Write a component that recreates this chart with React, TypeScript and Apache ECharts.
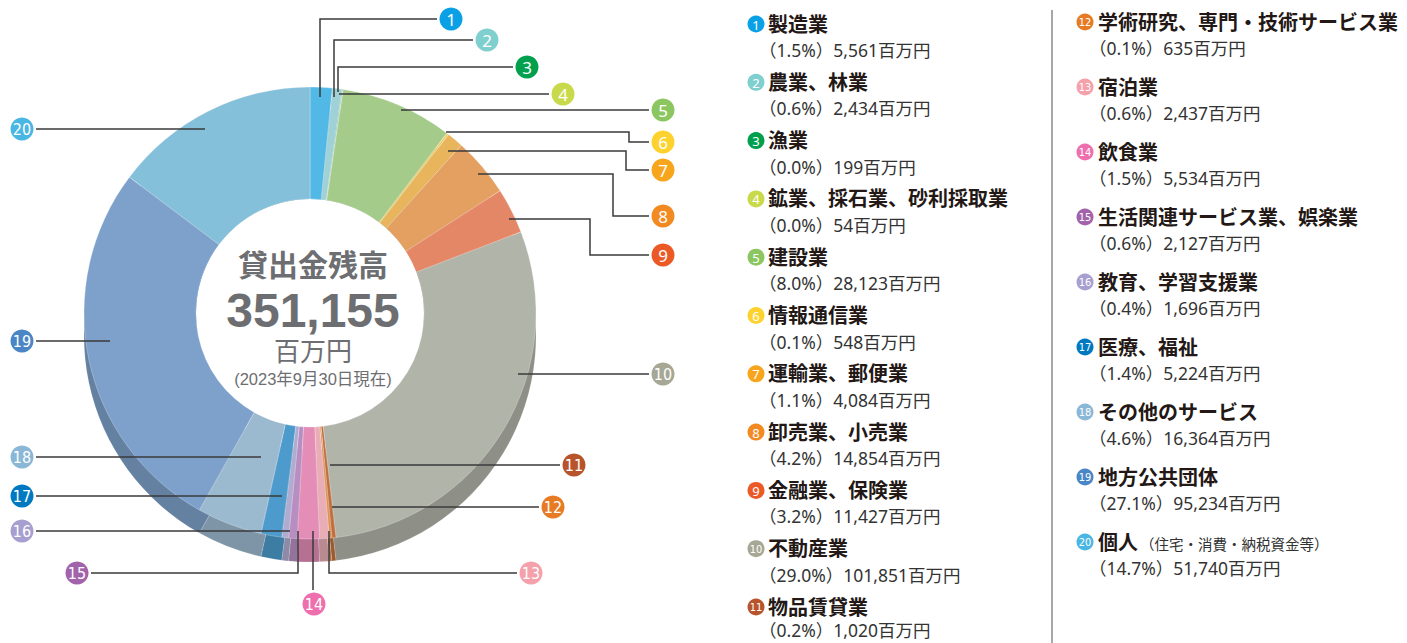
import React, { useEffect, useRef } from 'react';
import * as echarts from 'echarts';

// ---------------- data ----------------
const categories = [
  '製造業', '農業、林業', '漁業', '鉱業、採石業、砂利採取業', '建設業',
  '情報通信業', '運輸業、郵便業', '卸売業、小売業', '金融業、保険業', '不動産業',
  '物品賃貸業', '学術研究、専門・技術サービス業', '宿泊業', '飲食業', '生活関連サービス業、娯楽業',
  '教育、学習支援業', '医療、福祉', 'その他のサービス', '地方公共団体', '個人',
];
const values = [
  5561, 2434, 199, 54, 28123, 548, 4084, 14854, 11427, 101851,
  1020, 635, 2437, 5534, 2127, 1696, 5224, 16364, 95234, 51740,
];
const percents = [
  '1.5', '0.6', '0.0', '0.0', '8.0', '0.1', '1.1', '4.2', '3.2', '29.0',
  '0.2', '0.1', '0.6', '1.5', '0.6', '0.4', '1.4', '4.6', '27.1', '14.7',
];
const noteText = '（住宅・消費・納税資金等）';
const totalTitle = '貸出金残高';
const totalValue = '351,155';
const unitText = '百万円';
const dateText = '(2023年9月30日現在)';

// ---------------- styles ----------------
const sliceColors = [
  '#52b9e6', '#9fd1d7', '#4fae80', '#cfdc7a', '#a4cb8a',
  '#ecd06d', '#e8b45c', '#e4a061', '#e48767', '#b1b4a9',
  '#c0703f', '#e0904f', '#e8adb5', '#e48db7', '#b88ec2',
  '#b0abd1', '#4c9bcc', '#9cbacf', '#7da1cb', '#85c0da',
];
const markerColors = [
  '#0aa0e6', '#7fcfcf', '#00a04e', '#c8da4a', '#8cc660',
  '#fdd22e', '#f7a51c', '#f28a21', '#eb5a26', '#a6a794',
  '#b7542b', '#e67b24', '#f4a1ac', '#ee6fae', '#a263aa',
  '#a79fd0', '#0079c1', '#8ab7d6', '#4a86c5', '#4ab6e3',
];

// callout layout (annotation positions): marker centre + leader polyline
const callouts: { m: number[]; pts: number[][] }[] = [
  { m: [451, 19], pts: [[320, 97], [320, 19], [437, 19]] },
  { m: [487, 40], pts: [[334, 97], [334, 40], [473, 40]] },
  { m: [527, 67], pts: [[338, 92], [338, 67], [513, 67]] },
  { m: [563, 94], pts: [[339, 94], [549, 94]] },
  { m: [663, 110], pts: [[401, 110], [649, 110]] },
  { m: [663, 142], pts: [[446, 132], [629, 132], [629, 142], [649, 142]] },
  { m: [663, 170], pts: [[448, 151], [626, 151], [626, 170], [649, 170]] },
  { m: [663, 216], pts: [[478, 174], [613, 174], [613, 216], [649, 216]] },
  { m: [663, 255], pts: [[509, 219], [590, 219], [590, 255], [649, 255]] },
  { m: [663, 374], pts: [[518, 374], [649, 374]] },
  { m: [574, 465], pts: [[330, 465], [560, 465]] },
  { m: [553, 507], pts: [[332, 507], [539, 507]] },
  { m: [531, 573], pts: [[329, 531], [329, 573], [517, 573]] },
  { m: [314, 604], pts: [[313, 531], [313, 590]] },
  { m: [77, 573], pts: [[298, 531], [298, 573], [91, 573]] },
  { m: [22, 531], pts: [[290, 531], [36, 531]] },
  { m: [22, 496], pts: [[282, 496], [36, 496]] },
  { m: [22, 457], pts: [[261, 457], [36, 457]] },
  { m: [22, 341], pts: [[110, 341], [36, 341]] },
  { m: [22, 129], pts: [[205, 129], [36, 129]] },
];

const PIE_CX = 310;
const PIE_CY = 313;
const R_IN = 114;
const R_OUT = 226;
const DEPTH = 23;

const FONT = "'Noto Sans', 'Noto Sans CJK JP', sans-serif";
const CENTER_FONT = "'Liberation Sans', 'Noto Sans CJK JP', sans-serif";
const NUM_FONT = "'Liberation Sans Narrow', 'DejaVu Sans Condensed', 'Roboto', sans-serif";

function darken(hex: string, f: number): string {
  const n = parseInt(hex.slice(1), 16);
  const r = Math.round(((n >> 16) & 255) * f);
  const g = Math.round(((n >> 8) & 255) * f);
  const b = Math.round((n & 255) * f);
  return `rgb(${r},${g},${b})`;
}

function fmt(v: number): string {
  return v.toString().replace(/\B(?=(\d{3})+(?!\d))/g, ',');
}

function txt(x: number, y: number, text: string, o: any, z = 100): any {
  const style: any = {
    text,
    fill: o.fill || '#333',
    fontSize: o.fontSize || 14,
    fontWeight: o.fontWeight || 'normal',
    fontFamily: o.fontFamily || FONT,
    align: o.align || 'left',
    verticalAlign: o.verticalAlign || 'middle',
    textAlign: o.align || 'left',
    textVerticalAlign: o.verticalAlign || 'middle',
  };
  if (o.lineHeight) style.lineHeight = o.lineHeight;
  return { type: 'text', x, y, z, silent: true, style };
}

function numberBadge(cx: number, cy: number, r: number, n: number, color: string, fs1: number, fs2: number): any[] {
  const two = n >= 10;
  return [
    { type: 'circle', z: 101, silent: true, shape: { cx, cy, r }, style: { fill: color } },
    txt(cx, cy + 0.5, String(n), {
      fill: '#fff',
      fontSize: two ? fs2 : fs1,
      fontFamily: two ? NUM_FONT : FONT,
      align: 'center',
      verticalAlign: 'middle',
      lineHeight: two ? fs2 : fs1,
    }, 102),
  ];
}

function buildGraphics(): any[] {
  const els: any[] = [];

  // leader lines + numbered markers
  callouts.forEach((c, i) => {
    els.push({
      type: 'polyline',
      z: 100,
      silent: true,
      shape: { points: c.pts },
      style: { stroke: '#3a3a3a', lineWidth: 1.5, fill: null },
    });
    els.push(...numberBadge(c.m[0], c.m[1], 11.5, i + 1, markerColors[i], 17, 16));
  });

  // centre texts
  els.push(txt(313, 265, totalTitle, { fill: '#6d6e71', fontSize: 30, fontWeight: 'bold', align: 'center', lineHeight: 30, fontFamily: CENTER_FONT }));
  els.push(txt(313, 310, totalValue, { fill: '#6d6e71', fontSize: 48, fontWeight: 'bold', align: 'center', lineHeight: 40, fontFamily: CENTER_FONT }));
  els.push(txt(313, 352, unitText, { fill: '#6d6e71', fontSize: 26, align: 'center', lineHeight: 26, fontFamily: CENTER_FONT }));
  els.push(txt(313, 379, dateText, { fill: '#6d6e71', fontSize: 16.5, align: 'center', lineHeight: 17, fontFamily: CENTER_FONT }));

  // legend
  categories.forEach((name, i) => {
    const left = i < 11;
    const k = left ? i : i - 11;
    const ty = left ? 24 + 58.3 * k : 22 + 65 * k;
    const mx = left ? 756 : 1085;
    const tx = left ? 768 : 1098;
    els.push(...numberBadge(mx, ty, 8.5, i + 1, markerColors[i], 13, 11));
    els.push(txt(tx, ty, name, { fill: '#231815', fontSize: 20, fontWeight: 'bold', lineHeight: 22 }));
    if (i === 19) {
      els.push(txt(tx + 42, ty + 2, noteText, { fill: '#333', fontSize: 14.5, lineHeight: 16 }));
    }
    const sy = Math.min(ty + 26, 630);
    els.push(txt(tx - 9, sy, `（${percents[i]}%）${fmt(values[i])}${unitText}`, { fill: '#333', fontSize: 17.5, lineHeight: 18 }));
  });

  // divider
  els.push({
    type: 'line',
    z: 100,
    silent: true,
    shape: { x1: 1052, y1: 10, x2: 1052, y2: 643 },
    style: { stroke: '#8a8a8a', lineWidth: 1.5 },
  });

  return els;
}

export default function App() {
  const ref = useRef<HTMLDivElement>(null);

  useEffect(() => {
    if (!ref.current) return;
    const chart = echarts.init(ref.current, undefined, { renderer: 'svg' });

    const topData = values.map((v, i) => ({
      value: v,
      name: categories[i],
      itemStyle: { color: sliceColors[i] },
    }));
    const sideData = values.map((v, i) => ({
      value: v,
      name: categories[i],
      itemStyle: { color: darken(sliceColors[i], 0.8) },
    }));

    chart.setOption({
      animation: false,
      backgroundColor: '#ffffff',
      series: [
        {
          type: 'pie',
          name: 'side',
          z: 1,
          silent: true,
          center: [PIE_CX, PIE_CY + DEPTH],
          radius: [R_IN, R_OUT],
          startAngle: 90,
          clockwise: true,
          label: { show: false },
          labelLine: { show: false },
          emphasis: { disabled: true },
          itemStyle: { borderColor: 'rgba(255,255,255,0.25)', borderWidth: 0.6 },
          data: sideData,
        },
        {
          type: 'pie',
          name: 'hole',
          z: 2,
          silent: true,
          center: [PIE_CX, PIE_CY],
          radius: [0, R_IN],
          label: { show: false },
          labelLine: { show: false },
          emphasis: { disabled: true },
          itemStyle: { borderWidth: 0 },
          data: [{ value: 1, name: '', itemStyle: { color: '#ffffff' } }],
        },
        {
          type: 'pie',
          name: 'top',
          z: 3,
          silent: true,
          center: [PIE_CX, PIE_CY],
          radius: [R_IN, R_OUT],
          startAngle: 90,
          clockwise: true,
          label: { show: false },
          labelLine: { show: false },
          emphasis: { disabled: true },
          itemStyle: { borderColor: 'rgba(255,255,255,0.45)', borderWidth: 0.6 },
          data: topData,
        },
      ],
      graphic: { elements: buildGraphics() },
    });

    return () => chart.dispose();
  }, []);

  return (
    <div
      ref={ref}
      style={{ position: 'fixed', left: 0, top: 0, width: 1407, height: 643, background: '#fff' }}
    />
  );
}
